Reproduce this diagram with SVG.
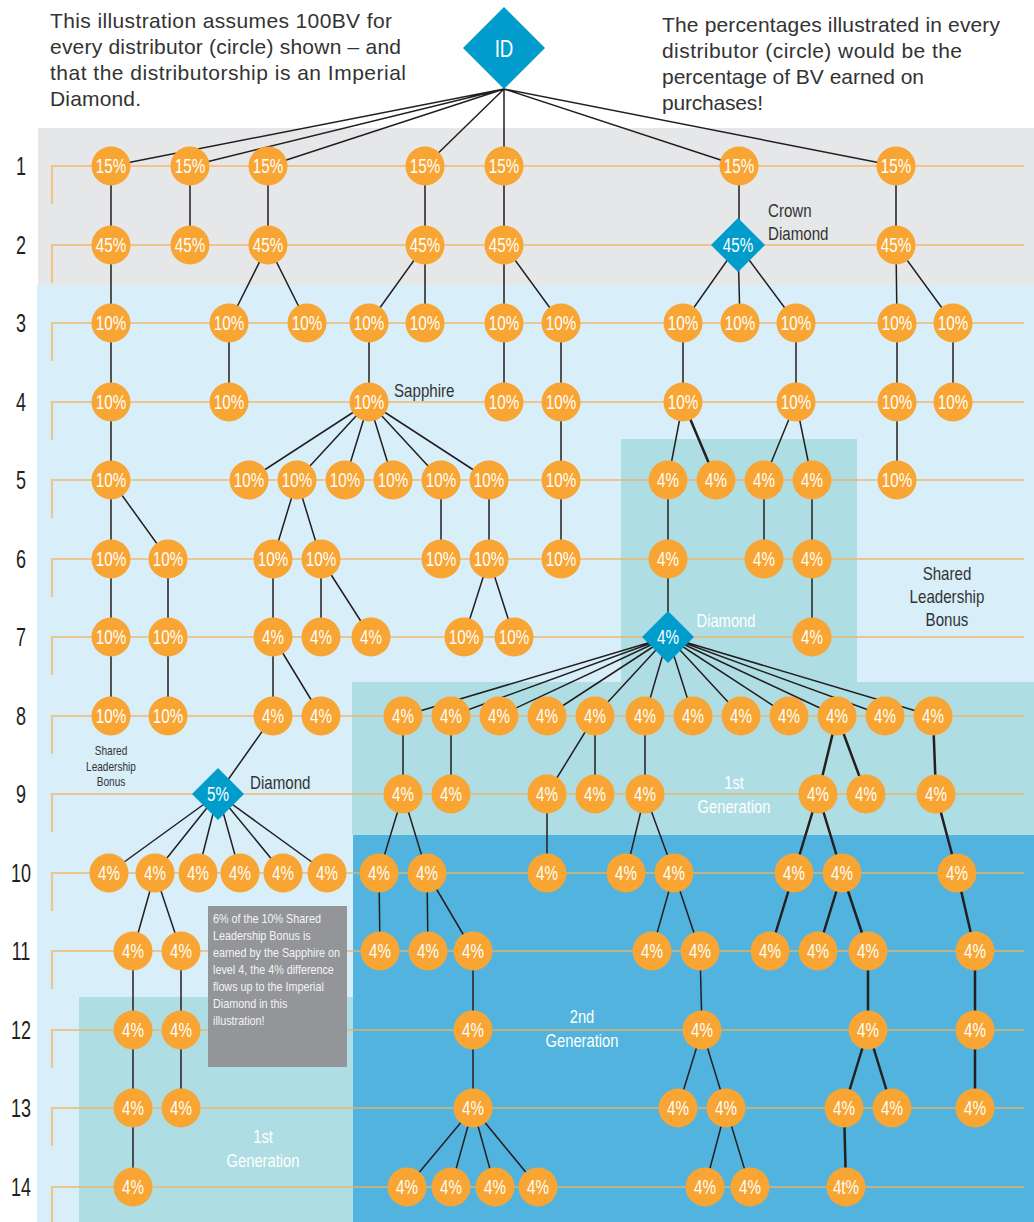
<svg xmlns="http://www.w3.org/2000/svg" width="1034" height="1222" viewBox="0 0 1034 1222">
<style>
text{font-family:"Liberation Sans",Arial,sans-serif;transform-box:fill-box}
.n circle{fill:#f8a533}
.n text,.d text{fill:#fff;font-size:19.5px;text-anchor:middle;transform-origin:50% 50%;transform:scaleX(0.78)}
.d polygon{fill:#009ccb}
.rl{fill:none;stroke:#f5b25a;stroke-opacity:0.65;stroke-width:2.2}
.cn path{fill:none;stroke:#231f20;stroke-width:1.5}
.cn path.k{stroke-width:2.5}
.num{fill:#231f20;font-size:25px;text-anchor:middle;transform-origin:50% 50%;transform:scaleX(0.72)}
.lb{fill:#333;font-size:18px;transform-origin:0 50%;transform:scaleX(0.84)}
.lbc{fill:#333;font-size:18px;text-anchor:middle;transform-origin:50% 50%;transform:scaleX(0.84)}
.sm{font-size:12px}
.wl{fill:#fff;font-size:18px;text-anchor:middle;transform-origin:50% 50%;transform:scaleX(0.82)}
.top{fill:#333;font-size:21px}
.note{fill:#f4f4f4;font-size:13px;transform-origin:0 50%;transform:scaleX(0.83)}
</style>
<g id="background">
<rect x="38" y="128" width="996" height="157" fill="#e6e7e8"/>
<rect x="37" y="285" width="997" height="937" fill="#d8eef8"/>
<rect x="621" y="439" width="236" height="244" fill="#aedde3"/>
<rect x="352" y="682" width="682" height="153" fill="#aedde3"/>
<rect x="353" y="835" width="681" height="387" fill="#52b4de"/>
<rect x="79" y="997" width="274" height="225" fill="#aedde3"/>
</g>
<g id="rows">
<path class="rl" d="M52,204V166H1024 M52,283V245H1024 M52,361V323H1024 M52,440V402H1024 M52,518V480H1024 M52,597V559H1024 M52,675V637H1024 M52,754V716H1024 M52,832V794H1024 M52,911V873H1024 M52,989V951H1024 M52,1068V1030H1024 M52,1146V1108H1024 M52,1225V1187H1024"/>
<text class="num" x="21" y="175">1</text>
<text class="num" x="21" y="254">2</text>
<text class="num" x="21" y="332">3</text>
<text class="num" x="21" y="411">4</text>
<text class="num" x="21" y="489">5</text>
<text class="num" x="21" y="568">6</text>
<text class="num" x="21" y="646">7</text>
<text class="num" x="21" y="725">8</text>
<text class="num" x="21" y="803">9</text>
<text class="num" x="21" y="882">10</text>
<text class="num" x="21" y="960">11</text>
<text class="num" x="21" y="1039">12</text>
<text class="num" x="21" y="1117">13</text>
<text class="num" x="21" y="1196">14</text>
</g>
<g id="note">
<rect x="208" y="906" width="139" height="161" fill="#939598"/>
<text class="note" x="213" y="923">6% of the 10% Shared</text>
<text class="note" x="213" y="940">Leadership Bonus is</text>
<text class="note" x="213" y="957">earned by the Sapphire on</text>
<text class="note" x="213" y="974">level 4, the 4% difference</text>
<text class="note" x="213" y="991">flows up to the Imperial</text>
<text class="note" x="213" y="1008">Diamond in this</text>
<text class="note" x="213" y="1025">illustration!</text>
</g>
<g id="texts">
<text class="top" x="50" y="28" textLength="342">This illustration assumes 100BV for</text>
<text class="top" x="50" y="54" textLength="351">every distributor (circle) shown – and</text>
<text class="top" x="50" y="80" textLength="356">that the distributorship is an Imperial</text>
<text class="top" x="50" y="106" textLength="91">Diamond.</text>
<text class="top" x="662" y="32" textLength="338">The percentages illustrated in every</text>
<text class="top" x="662" y="58" textLength="300">distributor (circle) would be the</text>
<text class="top" x="662" y="84" textLength="262">percentage of BV earned on</text>
<text class="top" x="662" y="110" textLength="101">purchases!</text>
<text class="lb" x="768" y="217">Crown</text>
<text class="lb" x="768" y="240">Diamond</text>
<text class="lb" x="394" y="397">Sapphire</text>
<text class="wl" x="726" y="627">Diamond</text>
<text class="lbc" x="947" y="580">Shared</text>
<text class="lbc" x="947" y="603">Leadership</text>
<text class="lbc" x="947" y="626">Bonus</text>
<text class="lbc sm" x="111" y="755">Shared</text>
<text class="lbc sm" x="111" y="771">Leadership</text>
<text class="lbc sm" x="111" y="786">Bonus</text>
<text class="lb" x="250" y="789">Diamond</text>
<text class="wl" x="734" y="789">1st</text>
<text class="wl" x="734" y="813">Generation</text>
<text class="wl" x="582" y="1023">2nd</text>
<text class="wl" x="582" y="1047">Generation</text>
<text class="wl" x="263" y="1143">1st</text>
<text class="wl" x="263" y="1167">Generation</text>
</g>
<g id="connectors" class="cn">
<path d="M504,89L111,166M504,89L190,166M504,89L268,166M504,89L425,166M504,89L504,166M504,89L739,166M504,89L896,166"/>
<path d="M111,166V245M190,166V245M268,166V245M425,166V245M504,166V245M739,166V245M896,166V245"/>
<path d="M111,245V323M268,245L229,323M268,245L307,323M425,245L369,323M425,245V323M504,245V323M504,245L561,323M738,245L683,323M738,245L740,323M738,245L796,323M896,245L897,323M896,245L953,323"/>
<path d="M111,323V402M229,323V402M369,323V402M504,323V402M561,323V402M683,323V402M796,323V402M897,323V402M953,323V402"/>
<path d="M111,402V480M369,402L249,480M369,402L297,480M369,402L345,480M369,402L393,480M369,402L441,480M369,402L489,480M561,402V480M683,402L668,480M796,402L764,480M796,402L812,480M897,402V480"/>
<path class="k" d="M683,402L716,480"/>
<path d="M111,480V559M111,480L168,559M297,480L273,559M297,480L321,559M441,480V559M489,480V559M561,480V559M668,480V559M764,480V559M812,480V559"/>
<path d="M111,559V637M168,559V637M273,559V637M321,559V637M321,559L371,637M489,559L464,637M489,559L514,637M668,559V637M812,559V637"/>
<path d="M111,637V716M168,637V716M273,637V716M273,637L321,716M668,637L403,716M668,637L451,716M668,637L499,716M668,637L547,716M668,637L595,716M668,637L645,716M668,637L693,716M668,637L741,716M668,637L789,716M668,637L837,716M668,637L885,716M668,637L933,716"/>
<path d="M273,716L218,794M403,716V794M451,716V794M595,716L547,794M595,716V794M645,716V794"/>
<path class="k" d="M837,716L818,794M837,716L866,794M933,716L936,794"/>
<path d="M218,794L109,873M218,794L155,873M218,794L198,873M218,794L240,873M218,794L283,873M218,794L327,873M403,794L379,873M403,794L427,873M547,794V873M645,794L626,873M645,794L674,873"/>
<path class="k" d="M818,794L794,873M818,794L842,873M936,794L957,873"/>
<path d="M155,873L133,951M155,873L181,951M379,873L380,951M427,873L428,951M427,873L473,951M674,873L652,951M674,873L700,951"/>
<path class="k" d="M794,873L770,951M842,873L818,951M842,873L868,951M957,873L975,951"/>
<path d="M133,951V1030M181,951V1030M473,951V1030M700,951L702,1030"/>
<path class="k" d="M868,951V1030M975,951V1030"/>
<path d="M133,1030V1108M181,1030V1108M473,1030V1108M702,1030L678,1108M702,1030L726,1108"/>
<path class="k" d="M868,1030L844,1108M868,1030L892,1108M975,1030V1108"/>
<path d="M133,1108V1187M473,1108L407,1187M473,1108L451,1187M473,1108L495,1187M473,1108L538,1187M726,1108L705,1187M726,1108L750,1187"/>
<path class="k" d="M844,1108L846,1187"/>
</g>
<g id="nodes">
<g id="id" class="d"><polygon points="504,7 545,48 504,89 463,48"/><text x="504" y="57" style="font-size:24px">ID</text></g>
<g id="n1_111" class="n"><circle cx="111" cy="166" r="19.5"/><text x="111" y="173">15%</text></g>
<g id="n1_190" class="n"><circle cx="190" cy="166" r="19.5"/><text x="190" y="173">15%</text></g>
<g id="n1_268" class="n"><circle cx="268" cy="166" r="19.5"/><text x="268" y="173">15%</text></g>
<g id="n1_425" class="n"><circle cx="425" cy="166" r="19.5"/><text x="425" y="173">15%</text></g>
<g id="n1_504" class="n"><circle cx="504" cy="166" r="19.5"/><text x="504" y="173">15%</text></g>
<g id="n1_739" class="n"><circle cx="739" cy="166" r="19.5"/><text x="739" y="173">15%</text></g>
<g id="n1_896" class="n"><circle cx="896" cy="166" r="19.5"/><text x="896" y="173">15%</text></g>
<g id="n2_111" class="n"><circle cx="111" cy="245" r="19.5"/><text x="111" y="252">45%</text></g>
<g id="n2_190" class="n"><circle cx="190" cy="245" r="19.5"/><text x="190" y="252">45%</text></g>
<g id="n2_268" class="n"><circle cx="268" cy="245" r="19.5"/><text x="268" y="252">45%</text></g>
<g id="n2_425" class="n"><circle cx="425" cy="245" r="19.5"/><text x="425" y="252">45%</text></g>
<g id="n2_504" class="n"><circle cx="504" cy="245" r="19.5"/><text x="504" y="252">45%</text></g>
<g id="n2_crown" class="d"><polygon points="738,218 765,245 738,272 711,245"/><text x="738" y="252">45%</text></g>
<g id="n2_896" class="n"><circle cx="896" cy="245" r="19.5"/><text x="896" y="252">45%</text></g>
<g id="n3_111" class="n"><circle cx="111" cy="323" r="19.5"/><text x="111" y="330">10%</text></g>
<g id="n3_229" class="n"><circle cx="229" cy="323" r="19.5"/><text x="229" y="330">10%</text></g>
<g id="n3_307" class="n"><circle cx="307" cy="323" r="19.5"/><text x="307" y="330">10%</text></g>
<g id="n3_369" class="n"><circle cx="369" cy="323" r="19.5"/><text x="369" y="330">10%</text></g>
<g id="n3_425" class="n"><circle cx="425" cy="323" r="19.5"/><text x="425" y="330">10%</text></g>
<g id="n3_504" class="n"><circle cx="504" cy="323" r="19.5"/><text x="504" y="330">10%</text></g>
<g id="n3_561" class="n"><circle cx="561" cy="323" r="19.5"/><text x="561" y="330">10%</text></g>
<g id="n3_683" class="n"><circle cx="683" cy="323" r="19.5"/><text x="683" y="330">10%</text></g>
<g id="n3_740" class="n"><circle cx="740" cy="323" r="19.5"/><text x="740" y="330">10%</text></g>
<g id="n3_796" class="n"><circle cx="796" cy="323" r="19.5"/><text x="796" y="330">10%</text></g>
<g id="n3_897" class="n"><circle cx="897" cy="323" r="19.5"/><text x="897" y="330">10%</text></g>
<g id="n3_953" class="n"><circle cx="953" cy="323" r="19.5"/><text x="953" y="330">10%</text></g>
<g id="n4_111" class="n"><circle cx="111" cy="402" r="19.5"/><text x="111" y="409">10%</text></g>
<g id="n4_229" class="n"><circle cx="229" cy="402" r="19.5"/><text x="229" y="409">10%</text></g>
<g id="n4_sapphire" class="n"><circle cx="369" cy="402" r="19.5"/><text x="369" y="409">10%</text></g>
<g id="n4_504" class="n"><circle cx="504" cy="402" r="19.5"/><text x="504" y="409">10%</text></g>
<g id="n4_561" class="n"><circle cx="561" cy="402" r="19.5"/><text x="561" y="409">10%</text></g>
<g id="n4_683" class="n"><circle cx="683" cy="402" r="19.5"/><text x="683" y="409">10%</text></g>
<g id="n4_796" class="n"><circle cx="796" cy="402" r="19.5"/><text x="796" y="409">10%</text></g>
<g id="n4_897" class="n"><circle cx="897" cy="402" r="19.5"/><text x="897" y="409">10%</text></g>
<g id="n4_953" class="n"><circle cx="953" cy="402" r="19.5"/><text x="953" y="409">10%</text></g>
<g id="n5_111" class="n"><circle cx="111" cy="480" r="19.5"/><text x="111" y="487">10%</text></g>
<g id="n5_249" class="n"><circle cx="249" cy="480" r="19.5"/><text x="249" y="487">10%</text></g>
<g id="n5_297" class="n"><circle cx="297" cy="480" r="19.5"/><text x="297" y="487">10%</text></g>
<g id="n5_345" class="n"><circle cx="345" cy="480" r="19.5"/><text x="345" y="487">10%</text></g>
<g id="n5_393" class="n"><circle cx="393" cy="480" r="19.5"/><text x="393" y="487">10%</text></g>
<g id="n5_441" class="n"><circle cx="441" cy="480" r="19.5"/><text x="441" y="487">10%</text></g>
<g id="n5_489" class="n"><circle cx="489" cy="480" r="19.5"/><text x="489" y="487">10%</text></g>
<g id="n5_561" class="n"><circle cx="561" cy="480" r="19.5"/><text x="561" y="487">10%</text></g>
<g id="n5_668" class="n"><circle cx="668" cy="480" r="19.5"/><text x="668" y="487">4%</text></g>
<g id="n5_716" class="n"><circle cx="716" cy="480" r="19.5"/><text x="716" y="487">4%</text></g>
<g id="n5_764" class="n"><circle cx="764" cy="480" r="19.5"/><text x="764" y="487">4%</text></g>
<g id="n5_812" class="n"><circle cx="812" cy="480" r="19.5"/><text x="812" y="487">4%</text></g>
<g id="n5_897" class="n"><circle cx="897" cy="480" r="19.5"/><text x="897" y="487">10%</text></g>
<g id="n6_111" class="n"><circle cx="111" cy="559" r="19.5"/><text x="111" y="566">10%</text></g>
<g id="n6_168" class="n"><circle cx="168" cy="559" r="19.5"/><text x="168" y="566">10%</text></g>
<g id="n6_273" class="n"><circle cx="273" cy="559" r="19.5"/><text x="273" y="566">10%</text></g>
<g id="n6_321" class="n"><circle cx="321" cy="559" r="19.5"/><text x="321" y="566">10%</text></g>
<g id="n6_441" class="n"><circle cx="441" cy="559" r="19.5"/><text x="441" y="566">10%</text></g>
<g id="n6_489" class="n"><circle cx="489" cy="559" r="19.5"/><text x="489" y="566">10%</text></g>
<g id="n6_561" class="n"><circle cx="561" cy="559" r="19.5"/><text x="561" y="566">10%</text></g>
<g id="n6_668" class="n"><circle cx="668" cy="559" r="19.5"/><text x="668" y="566">4%</text></g>
<g id="n6_764" class="n"><circle cx="764" cy="559" r="19.5"/><text x="764" y="566">4%</text></g>
<g id="n6_812" class="n"><circle cx="812" cy="559" r="19.5"/><text x="812" y="566">4%</text></g>
<g id="n7_111" class="n"><circle cx="111" cy="637" r="19.5"/><text x="111" y="644">10%</text></g>
<g id="n7_168" class="n"><circle cx="168" cy="637" r="19.5"/><text x="168" y="644">10%</text></g>
<g id="n7_273" class="n"><circle cx="273" cy="637" r="19.5"/><text x="273" y="644">4%</text></g>
<g id="n7_321" class="n"><circle cx="321" cy="637" r="19.5"/><text x="321" y="644">4%</text></g>
<g id="n7_371" class="n"><circle cx="371" cy="637" r="19.5"/><text x="371" y="644">4%</text></g>
<g id="n7_464" class="n"><circle cx="464" cy="637" r="19.5"/><text x="464" y="644">10%</text></g>
<g id="n7_514" class="n"><circle cx="514" cy="637" r="19.5"/><text x="514" y="644">10%</text></g>
<g id="n7_diamond" class="d"><polygon points="668,611 694,637 668,663 642,637"/><text x="668" y="644">4%</text></g>
<g id="n7_812" class="n"><circle cx="812" cy="637" r="19.5"/><text x="812" y="644">4%</text></g>
<g id="n8_111" class="n"><circle cx="111" cy="716" r="19.5"/><text x="111" y="723">10%</text></g>
<g id="n8_168" class="n"><circle cx="168" cy="716" r="19.5"/><text x="168" y="723">10%</text></g>
<g id="n8_273" class="n"><circle cx="273" cy="716" r="19.5"/><text x="273" y="723">4%</text></g>
<g id="n8_321" class="n"><circle cx="321" cy="716" r="19.5"/><text x="321" y="723">4%</text></g>
<g id="n8_403" class="n"><circle cx="403" cy="716" r="19.5"/><text x="403" y="723">4%</text></g>
<g id="n8_451" class="n"><circle cx="451" cy="716" r="19.5"/><text x="451" y="723">4%</text></g>
<g id="n8_499" class="n"><circle cx="499" cy="716" r="19.5"/><text x="499" y="723">4%</text></g>
<g id="n8_547" class="n"><circle cx="547" cy="716" r="19.5"/><text x="547" y="723">4%</text></g>
<g id="n8_595" class="n"><circle cx="595" cy="716" r="19.5"/><text x="595" y="723">4%</text></g>
<g id="n8_645" class="n"><circle cx="645" cy="716" r="19.5"/><text x="645" y="723">4%</text></g>
<g id="n8_693" class="n"><circle cx="693" cy="716" r="19.5"/><text x="693" y="723">4%</text></g>
<g id="n8_741" class="n"><circle cx="741" cy="716" r="19.5"/><text x="741" y="723">4%</text></g>
<g id="n8_789" class="n"><circle cx="789" cy="716" r="19.5"/><text x="789" y="723">4%</text></g>
<g id="n8_837" class="n"><circle cx="837" cy="716" r="19.5"/><text x="837" y="723">4%</text></g>
<g id="n8_885" class="n"><circle cx="885" cy="716" r="19.5"/><text x="885" y="723">4%</text></g>
<g id="n8_933" class="n"><circle cx="933" cy="716" r="19.5"/><text x="933" y="723">4%</text></g>
<g id="n9_diamond" class="d"><polygon points="218,768 244,794 218,820 192,794"/><text x="218" y="801">5%</text></g>
<g id="n9_403" class="n"><circle cx="403" cy="794" r="19.5"/><text x="403" y="801">4%</text></g>
<g id="n9_451" class="n"><circle cx="451" cy="794" r="19.5"/><text x="451" y="801">4%</text></g>
<g id="n9_547" class="n"><circle cx="547" cy="794" r="19.5"/><text x="547" y="801">4%</text></g>
<g id="n9_595" class="n"><circle cx="595" cy="794" r="19.5"/><text x="595" y="801">4%</text></g>
<g id="n9_645" class="n"><circle cx="645" cy="794" r="19.5"/><text x="645" y="801">4%</text></g>
<g id="n9_818" class="n"><circle cx="818" cy="794" r="19.5"/><text x="818" y="801">4%</text></g>
<g id="n9_866" class="n"><circle cx="866" cy="794" r="19.5"/><text x="866" y="801">4%</text></g>
<g id="n9_936" class="n"><circle cx="936" cy="794" r="19.5"/><text x="936" y="801">4%</text></g>
<g id="n10_109" class="n"><circle cx="109" cy="873" r="19.5"/><text x="109" y="880">4%</text></g>
<g id="n10_155" class="n"><circle cx="155" cy="873" r="19.5"/><text x="155" y="880">4%</text></g>
<g id="n10_198" class="n"><circle cx="198" cy="873" r="19.5"/><text x="198" y="880">4%</text></g>
<g id="n10_240" class="n"><circle cx="240" cy="873" r="19.5"/><text x="240" y="880">4%</text></g>
<g id="n10_283" class="n"><circle cx="283" cy="873" r="19.5"/><text x="283" y="880">4%</text></g>
<g id="n10_327" class="n"><circle cx="327" cy="873" r="19.5"/><text x="327" y="880">4%</text></g>
<g id="n10_379" class="n"><circle cx="379" cy="873" r="19.5"/><text x="379" y="880">4%</text></g>
<g id="n10_427" class="n"><circle cx="427" cy="873" r="19.5"/><text x="427" y="880">4%</text></g>
<g id="n10_547" class="n"><circle cx="547" cy="873" r="19.5"/><text x="547" y="880">4%</text></g>
<g id="n10_626" class="n"><circle cx="626" cy="873" r="19.5"/><text x="626" y="880">4%</text></g>
<g id="n10_674" class="n"><circle cx="674" cy="873" r="19.5"/><text x="674" y="880">4%</text></g>
<g id="n10_794" class="n"><circle cx="794" cy="873" r="19.5"/><text x="794" y="880">4%</text></g>
<g id="n10_842" class="n"><circle cx="842" cy="873" r="19.5"/><text x="842" y="880">4%</text></g>
<g id="n10_957" class="n"><circle cx="957" cy="873" r="19.5"/><text x="957" y="880">4%</text></g>
<g id="n11_133" class="n"><circle cx="133" cy="951" r="19.5"/><text x="133" y="958">4%</text></g>
<g id="n11_181" class="n"><circle cx="181" cy="951" r="19.5"/><text x="181" y="958">4%</text></g>
<g id="n11_380" class="n"><circle cx="380" cy="951" r="19.5"/><text x="380" y="958">4%</text></g>
<g id="n11_428" class="n"><circle cx="428" cy="951" r="19.5"/><text x="428" y="958">4%</text></g>
<g id="n11_473" class="n"><circle cx="473" cy="951" r="19.5"/><text x="473" y="958">4%</text></g>
<g id="n11_652" class="n"><circle cx="652" cy="951" r="19.5"/><text x="652" y="958">4%</text></g>
<g id="n11_700" class="n"><circle cx="700" cy="951" r="19.5"/><text x="700" y="958">4%</text></g>
<g id="n11_770" class="n"><circle cx="770" cy="951" r="19.5"/><text x="770" y="958">4%</text></g>
<g id="n11_818" class="n"><circle cx="818" cy="951" r="19.5"/><text x="818" y="958">4%</text></g>
<g id="n11_868" class="n"><circle cx="868" cy="951" r="19.5"/><text x="868" y="958">4%</text></g>
<g id="n11_975" class="n"><circle cx="975" cy="951" r="19.5"/><text x="975" y="958">4%</text></g>
<g id="n12_133" class="n"><circle cx="133" cy="1030" r="19.5"/><text x="133" y="1037">4%</text></g>
<g id="n12_181" class="n"><circle cx="181" cy="1030" r="19.5"/><text x="181" y="1037">4%</text></g>
<g id="n12_473" class="n"><circle cx="473" cy="1030" r="19.5"/><text x="473" y="1037">4%</text></g>
<g id="n12_702" class="n"><circle cx="702" cy="1030" r="19.5"/><text x="702" y="1037">4%</text></g>
<g id="n12_868" class="n"><circle cx="868" cy="1030" r="19.5"/><text x="868" y="1037">4%</text></g>
<g id="n12_975" class="n"><circle cx="975" cy="1030" r="19.5"/><text x="975" y="1037">4%</text></g>
<g id="n13_133" class="n"><circle cx="133" cy="1108" r="19.5"/><text x="133" y="1115">4%</text></g>
<g id="n13_181" class="n"><circle cx="181" cy="1108" r="19.5"/><text x="181" y="1115">4%</text></g>
<g id="n13_473" class="n"><circle cx="473" cy="1108" r="19.5"/><text x="473" y="1115">4%</text></g>
<g id="n13_678" class="n"><circle cx="678" cy="1108" r="19.5"/><text x="678" y="1115">4%</text></g>
<g id="n13_726" class="n"><circle cx="726" cy="1108" r="19.5"/><text x="726" y="1115">4%</text></g>
<g id="n13_844" class="n"><circle cx="844" cy="1108" r="19.5"/><text x="844" y="1115">4%</text></g>
<g id="n13_892" class="n"><circle cx="892" cy="1108" r="19.5"/><text x="892" y="1115">4%</text></g>
<g id="n13_975" class="n"><circle cx="975" cy="1108" r="19.5"/><text x="975" y="1115">4%</text></g>
<g id="n14_133" class="n"><circle cx="133" cy="1187" r="19.5"/><text x="133" y="1194">4%</text></g>
<g id="n14_407" class="n"><circle cx="407" cy="1187" r="19.5"/><text x="407" y="1194">4%</text></g>
<g id="n14_451" class="n"><circle cx="451" cy="1187" r="19.5"/><text x="451" y="1194">4%</text></g>
<g id="n14_495" class="n"><circle cx="495" cy="1187" r="19.5"/><text x="495" y="1194">4%</text></g>
<g id="n14_538" class="n"><circle cx="538" cy="1187" r="19.5"/><text x="538" y="1194">4%</text></g>
<g id="n14_705" class="n"><circle cx="705" cy="1187" r="19.5"/><text x="705" y="1194">4%</text></g>
<g id="n14_750" class="n"><circle cx="750" cy="1187" r="19.5"/><text x="750" y="1194">4%</text></g>
<g id="n14_846" class="n"><circle cx="846" cy="1187" r="19.5"/><text x="846" y="1194">4t%</text></g>
</g>
</svg>
